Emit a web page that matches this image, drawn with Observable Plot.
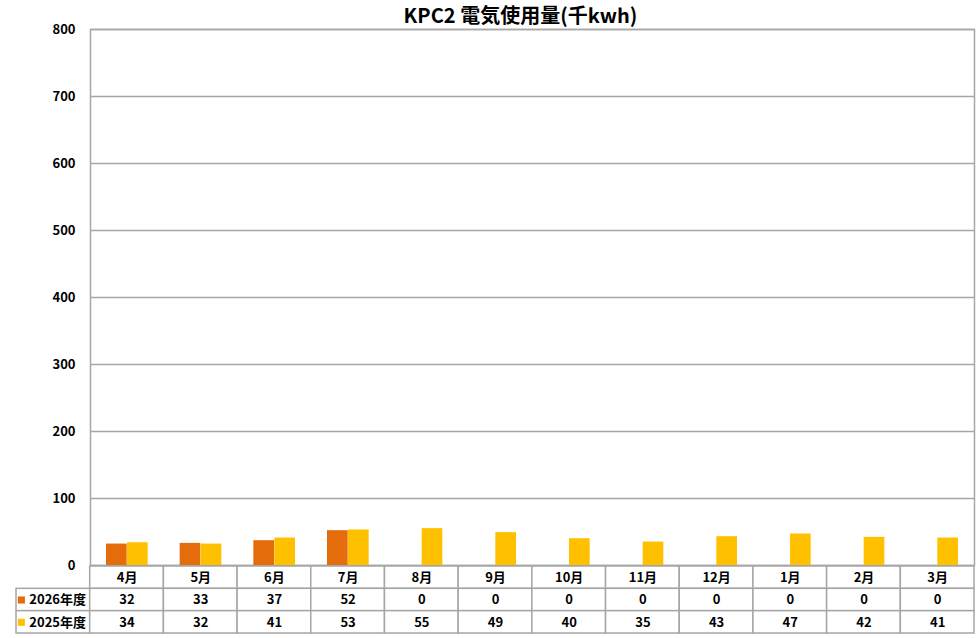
<!DOCTYPE html>
<html>
<head>
<meta charset="utf-8">
<script src="https://cdn.jsdelivr.net/npm/d3@7"></script>
<script src="https://cdn.jsdelivr.net/npm/@observablehq/plot@0.6"></script>
<style>
  html, body { margin: 0; padding: 0; background: #fff; }
  #chart { position: relative; width: 976px; }
  #chart svg { display: block; overflow: visible; }
  #chart svg.table { position: relative; margin-top: -14px; background: transparent !important; }
</style>
</head>
<body>
<div id="chart"></div>
<script>
const title = "KPC2 電気使用量(千kwh)";
const months = ["4月","5月","6月","7月","8月","9月","10月","11月","12月","1月","2月","3月"];
const series = ["2026年度","2025年度"];
const v2026 = [32,33,37,52,0,0,0,0,0,0,0,0];
const v2025 = [34,32,41,53,55,49,40,35,43,47,42,41];
const yTicks = [0,100,200,300,400,500,600,700,800];
const colors = ["#E46C0A","#FFC000"];

const values = {"2026年度": v2026, "2025年度": v2025};
const data = months.flatMap((m, i) => series.map(s => ({month: m, series: s, value: values[s][i]})));

const gridColor = "#a6a6a6";
const font = "'Noto Sans CJK JP', 'Noto Sans', sans-serif";

const chart = Plot.plot({
  width: 976, height: 580,
  marginTop: 29, marginBottom: 15, marginLeft: 90, marginRight: 2,
  style: {fontFamily: font, fontSize: "13px", fontWeight: "bold", color: "#000", background: "#fff"},
  x: {domain: months, paddingInner: 0, paddingOuter: 0, round: false, axis: null},
  y: {domain: [0, 800], axis: null},
  color: {domain: series, range: colors},
  marks: [
    Plot.ruleY(yTicks, {stroke: gridColor, strokeWidth: 1.5}),
    Plot.frame({stroke: gridColor, strokeWidth: 1.5}),
    Plot.barY(data.filter(d => d.series === series[0]), {x: "month", y: "value", fill: "series", insetLeft: 16, insetRight: 37}),
    Plot.barY(data.filter(d => d.series === series[1]), {x: "month", y: "value", fill: "series", insetLeft: 37, insetRight: 16}),
    Plot.axisY(yTicks, {label: null, tickSize: 0, tickPadding: 15, fontSize: 13, fontWeight: "bold", fill: "#000", tickFormat: d => String(d)}),
    Plot.text([title], {text: d => d, frameAnchor: "top", lineAnchor: "middle", dy: -13, dx: -12, fontSize: 20, fontWeight: "bold", fill: "#000"})
  ]
});

const rows = ["月", ...series];
const cols = ["凡例", ...months];
const cells = [
  ...months.map(m => ({col: m, row: "月", label: m})),
  ...series.map(s => ({col: "凡例", row: s, label: s})),
  ...data.map(d => ({col: d.month, row: d.series, label: String(d.value)}))
];

const table = Plot.plot({
  width: 976, height: 72,
  marginTop: 0, marginBottom: 5, marginLeft: 16, marginRight: 2,
  style: {fontFamily: font, fontSize: "13px", fontWeight: "bold", color: "#000", background: "transparent"},
  x: {domain: cols, paddingInner: 0, paddingOuter: 0, round: false, axis: null},
  y: {domain: rows, paddingInner: 0, paddingOuter: 0, round: false, axis: null},
  color: {domain: series, range: colors},
  marks: [
    Plot.cell(cells, {x: "col", y: "row", fill: "white", stroke: gridColor, strokeWidth: 1.5}),
    Plot.text(cells.filter(c => c.col !== "凡例"), {x: "col", y: "row", text: "label", fill: "#000", fontSize: 13, fontWeight: "bold"}),
    Plot.dot(series, {x: () => "凡例", y: d => d, symbol: "square", r: 4, fill: d => d, dx: -32}),
    Plot.text(series, {x: () => "凡例", y: d => d, text: d => d, textAnchor: "start", dx: -24, fill: "#000", fontSize: 13, fontWeight: "bold"})
  ]
});
table.classList.add("table");

const el = document.getElementById("chart");
el.appendChild(chart);
el.appendChild(table);
</script>
</body>
</html>
